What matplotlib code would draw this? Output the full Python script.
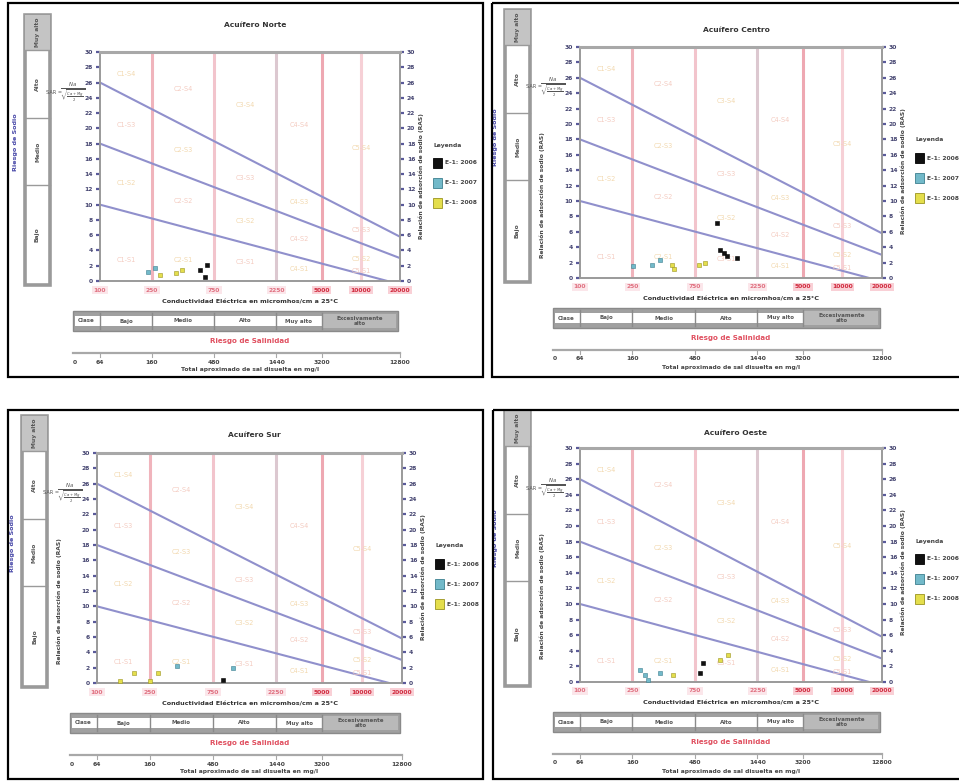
import numpy as np
import matplotlib
matplotlib.use("Agg")
import matplotlib.pyplot as plt
from matplotlib.patches import Rectangle
from matplotlib.transforms import Bbox, TransformedBbox
from matplotlib.ticker import NullLocator, FixedLocator

W, H = 959, 782

# ---------------- data ----------------
titles = ["Acuífero Norte", "Acuífero Centro", "Acuífero Sur", "Acuífero Oeste"]
legend_title = "Leyenda"
legend_labels = ["E-1: 2006", "E-1: 2007", "E-1: 2008"]

ec_ticks = [100, 250, 750, 2250, 5000, 10000, 20000]
ec_tick_labels = ["100", "250", "750", "2250", "5000", "10000", "20000"]
tds_ticks = [100, 250, 750, 2250, 5000, 20000]
tds_labels = ["64", "160", "480", "1440", "3200", "12800"]
sar_ticks = list(range(0, 31, 2))
class_bounds = [100, 250, 750, 2250, 5000, 20000]
salinity_classes = ["Bajo", "Medio", "Alto", "Muy alto", "Excesivamente\nalto"]
sodium_classes = ["Muy alto", "Alto", "Medio", "Bajo"]

line_s3_s4_ec = [100, 20000]
line_s3_s4_sar = [26.0, 5.8]
line_s2_s3_ec = [100, 20000]
line_s2_s3_sar = [18.0, 3.0]
line_s1_s2_ec = [100, 16000]
line_s1_s2_sar = [10.0, 0.0]

# panel 1
p1_black_ec = [643, 665, 588]
p1_black_sar = [0.5, 2.1, 1.4]
p1_cyan_ec = [234, 265]
p1_cyan_sar = [1.2, 1.7]
p1_yellow_ec = [289, 384, 427]
p1_yellow_sar = [0.8, 1.0, 1.4]
# panel 2
p2_black_ec = [1104, 1170, 1250, 1320, 1570]
p2_black_sar = [7.1, 3.7, 3.2, 2.8, 2.6]
p2_cyan_ec = [255, 352, 408]
p2_cyan_sar = [1.5, 1.7, 2.4]
p2_yellow_ec = [500, 520, 800, 900]
p2_yellow_sar = [1.7, 1.2, 1.7, 1.9]
# panel 3
p3_black_ec = [900]
p3_black_sar = [0.35]
p3_cyan_ec = [400, 1070]
p3_cyan_sar = [2.2, 2.0]
p3_yellow_ec = [150, 189, 252, 291]
p3_yellow_sar = [0.2, 1.3, 0.2, 1.3]
# panel 4
p4_black_ec = [822, 870]
p4_black_sar = [1.2, 2.4]
p4_cyan_ec = [287, 313, 332, 408]
p4_cyan_sar = [1.5, 0.9, 0.3, 1.1]
p4_yellow_ec = [515, 1170, 1330]
p4_yellow_sar = [0.9, 2.8, 3.4]

panel_series = [
    [(p1_black_ec, p1_black_sar), (p1_cyan_ec, p1_cyan_sar), (p1_yellow_ec, p1_yellow_sar)],
    [(p2_black_ec, p2_black_sar), (p2_cyan_ec, p2_cyan_sar), (p2_yellow_ec, p2_yellow_sar)],
    [(p3_black_ec, p3_black_sar), (p3_cyan_ec, p3_cyan_sar), (p3_yellow_ec, p3_yellow_sar)],
    [(p4_black_ec, p4_black_sar), (p4_cyan_ec, p4_cyan_sar), (p4_yellow_ec, p4_yellow_sar)],
]

# ---------------- layout / style ----------------
series_colors = ["#111111", "#72b9c9", "#e4de4c"]
series_edges = ["#000000", "#3d7f8f", "#9a9420"]

layouts = [
    dict(box=(8, 3, 483, 377), ax=(100, 52, 400, 281), tdy=-27, ras_left=False),
    dict(box=(492, 3, 980, 377), ax=(580, 47, 882, 278), tdy=-17, ras_left=True),
    dict(box=(8, 410, 483, 779), ax=(97, 453, 402, 683), tdy=-18, ras_left=True),
    dict(box=(493, 410, 980, 779), ax=(580, 448, 882, 682), tdy=-15, ras_left=True),
]

fig = plt.figure(figsize=(W / 100, H / 100), dpi=100)
fig.patch.set_facecolor("white")
ov = fig.add_axes([0, 0, 1, 1])
ov.set_xlim(0, W)
ov.set_ylim(H, 0)
ov.axis("off")

FS = 4.3


def sar_line(ec_pts, sar_pts, ec):
    lx = np.log10(ec_pts)
    return np.interp(np.log10(ec), lx, sar_pts)


for k, lay in enumerate(layouts):
    x0, y0, x1, y1 = lay["box"]
    l, t, r, b = lay["ax"]

    def xp(ec, l=l, r=r):
        return l + (np.log10(ec) - 2) / np.log10(200) * (r - l)

    # panel border
    ov.add_patch(Rectangle((x0, y0), x1 - x0, y1 - y0, fill=False, lw=1.6, ec="black", zorder=5))
    clipbox = TransformedBbox(Bbox([[x0, y0], [x1, y1]]), ov.transData)

    # title
    ov.text((l + r) / 2 + 5, t + lay["tdy"], titles[k], ha="center", va="center",
            fontsize=5.4, weight="bold", color="#333333")

    # sodium hazard box
    bx0, bx1 = l - 75, l - 50
    by0, by1 = t - 37, b + 4
    ov.add_patch(Rectangle((bx0, by0), bx1 - bx0, by1 - by0, fc="white", ec="#9a9a9a", lw=2.6))
    segs = [by0, t - 2, t + 66, t + 133, by1]
    ov.add_patch(Rectangle((bx0, by0), bx1 - bx0, t - 2 - by0, fc="#c4c4c4", ec="none"))
    for yy in segs[1:-1]:
        ov.plot([bx0, bx1], [yy, yy], color="#9a9a9a", lw=1.0)
    for i, name in enumerate(sodium_classes):
        ov.text((bx0 + bx1) / 2, (segs[i] + segs[i + 1]) / 2, name, rotation=90,
                ha="center", va="center", fontsize=FS, weight="bold", color="#555555")
    ov.text(l - 84, t + 90, "Riesgo de Sodio", rotation=90, ha="center", va="center",
            fontsize=4.6, weight="bold", color="#4848a8")
    # SAR formula
    ov.text(l - 38, t + 40, "SAR =", ha="right", va="center", fontsize=3.6, color="#555555")
    ov.text(l - 27, t + 40, r"$\frac{Na}{\sqrt{\frac{Ca+Mg}{2}}}$", ha="center", va="center",
            fontsize=5.6, color="#555555")
    if lay["ras_left"]:
        ov.text(l - 38, t + 148, "Relación de adsorción de sodio (RAS)", rotation=90,
                ha="center", va="center", fontsize=FS, weight="bold", color="#444444")
    ov.text(r + 21, t + 124, "Relación de adsorción de sodio (RAS)", rotation=90,
            ha="center", va="center", fontsize=FS, weight="bold", color="#444444")

    # legend
    lt = ov.text(r + 33, t + 93, legend_title, ha="left", va="center", fontsize=FS,
                 weight="bold", color="#444444")
    lt.set_clip_box(clipbox); lt.set_clip_on(True)
    for i, lab in enumerate(legend_labels):
        yy = t + 111 + 20 * i
        ov.add_patch(Rectangle((r + 33, yy - 5), 9, 10, fc=series_colors[i], ec=series_edges[i], lw=0.6))
        tt = ov.text(r + 45, yy, lab, ha="left", va="center", fontsize=FS, weight="bold", color="#444444")
        tt.set_clip_box(clipbox); tt.set_clip_on(True)

    # x tick labels (conductivity)
    for i, (ec, lab) in enumerate(zip(ec_ticks, ec_tick_labels)):
        strong = ec >= 5000
        ov.text(xp(ec), b + 9, lab, ha="center", va="center", fontsize=FS, weight="bold",
                color="#d0283c" if strong else "#e07080",
                bbox=dict(boxstyle="square,pad=0.25", fc="#f9d0d6" if strong else "#fbe6ea", ec="none"))
    ov.text((l + r) / 2, b + 21, "Conductividad Eléctrica en micromhos/cm a 25°C", ha="center",
            va="center", fontsize=FS + 0.3, weight="bold", color="#333333")

    # salinity hazard table
    tx0, tx1 = l - 27, r - 2
    ty0, ty1 = b + 30, b + 50
    ov.add_patch(Rectangle((tx0, ty0), tx1 - tx0, ty1 - ty0, fc="#a0a0a0", ec="#8a8a8a", lw=1.0))
    ov.add_patch(Rectangle((tx0 + 2, ty0 + 5), tx1 - tx0 - 4, ty1 - ty0 - 10, fc="white", ec="none"))
    xs = [tx0] + [xp(c) for c in class_bounds[:-1]] + [tx1]
    ov.add_patch(Rectangle((xs[-2], ty0 + 3), xs[-1] - xs[-2] - 2, ty1 - ty0 - 6, fc="#b9b9b9", ec="none"))
    for xx in xs[1:-1]:
        ov.plot([xx, xx], [ty0 + 2, ty1 - 2], color="#8a8a8a", lw=1.0)
    cell_texts = ["Clase"] + salinity_classes
    for i, txt in enumerate(cell_texts):
        ov.text((xs[i] + xs[i + 1]) / 2, (ty0 + ty1) / 2, txt, ha="center", va="center",
                fontsize=FS - 0.3, weight="bold", color="#555555", linespacing=0.9)
    ov.text((l + r) / 2, b + 60, "Riesgo de Salinidad", ha="center", va="center",
            fontsize=FS + 0.8, weight="bold", color="#e05060")

    # TDS scale
    ov.plot([tx0, r], [b + 72, b + 72], color="#a8a8a8", lw=1.6)
    ov.text(tx0 + 2, b + 81, "0", ha="center", va="center", fontsize=FS, weight="bold", color="#444444")
    for ec, lab in zip(tds_ticks, tds_labels):
        ov.plot([xp(ec), xp(ec)], [b + 72, b + 76], color="#a8a8a8", lw=0.8)
        ov.text(xp(ec), b + 81, lab, ha="center", va="center", fontsize=FS, weight="bold", color="#444444")
    ov.text((l + r) / 2, b + 89, "Total aproximado de sal disuelta en mg/l", ha="center", va="center",
            fontsize=FS, weight="bold", color="#444444")

    # ---------------- main axes ----------------
    ax = fig.add_axes([l / W, 1 - b / H, (r - l) / W, (b - t) / H])
    ax.set_xscale("log")
    ax.set_xlim(100, 20000)
    ax.set_ylim(0, 30)
    ax.xaxis.set_major_locator(NullLocator())
    ax.xaxis.set_minor_locator(NullLocator())
    ax.yaxis.set_major_locator(FixedLocator(sar_ticks))
    ax.tick_params(axis="y", which="both", left=True, right=True, labelleft=True, labelright=True,
                   length=3, width=1.6, color="#5a5a9a", labelsize=FS, labelcolor="#444470", pad=2)
    for lab in ax.get_yticklabels():
        lab.set_fontweight("bold")
    for s in ["left", "right", "bottom"]:
        ax.spines[s].set_color("#9a9a9a")
        ax.spines[s].set_linewidth(1.4)
    ax.spines["top"].set_color("#a8a8a8")
    ax.spines["top"].set_linewidth(2.2)

    vcols = {250: "#f0b4bc", 750: "#f2c4cc", 2250: "#dcc8d0", 5000: "#eea8b2", 10000: "#f6d0d6"}
    for ec, c in vcols.items():
        ax.axvline(ec, color=c, lw=2.2, zorder=1)

    for ecs, sars in [(line_s3_s4_ec, line_s3_s4_sar), (line_s2_s3_ec, line_s2_s3_sar),
                      (line_s1_s2_ec, line_s1_s2_sar)]:
        ax.plot(ecs, sars, color="#9090cc", lw=1.5, zorder=2)

    # region labels
    for ci in range(5):
        lo, hi = class_bounds[ci], class_bounds[ci + 1]
        xc = np.sqrt(lo * hi)
        s4 = sar_line(line_s3_s4_ec, line_s3_s4_sar, xc)
        s3 = sar_line(line_s2_s3_ec, line_s2_s3_sar, xc)
        s2 = max(sar_line(line_s1_s2_ec, line_s1_s2_sar, xc), 0)
        ys = [(s4 + 30) / 2 if ci < 4 else s4 + 9, (s3 + s4) / 2, (s2 + s3) / 2,
              min(s2 / 2, 2.7) if s2 > 0 else 1.5]
        if ci < 4:
            ys[0] = min((s4 + 30) / 2, 28 - 2.5 * ci)
        for si, yy in enumerate(ys):
            ax.text(xc, max(yy, 1.3), f"C{ci + 1}-S{4 - si}", ha="center", va="center",
                    fontsize=FS + 0.4, color="#f2d8ae" if (ci + si) % 2 == 0 else "#f4cbc0", zorder=2)

    for i, (ecs, sars) in enumerate(panel_series[k]):
        ax.scatter(ecs, sars, marker="s", s=9, c=series_colors[i], edgecolors=series_edges[i],
                   linewidths=0.4, zorder=4)

fig.savefig("out.png", dpi=100)
